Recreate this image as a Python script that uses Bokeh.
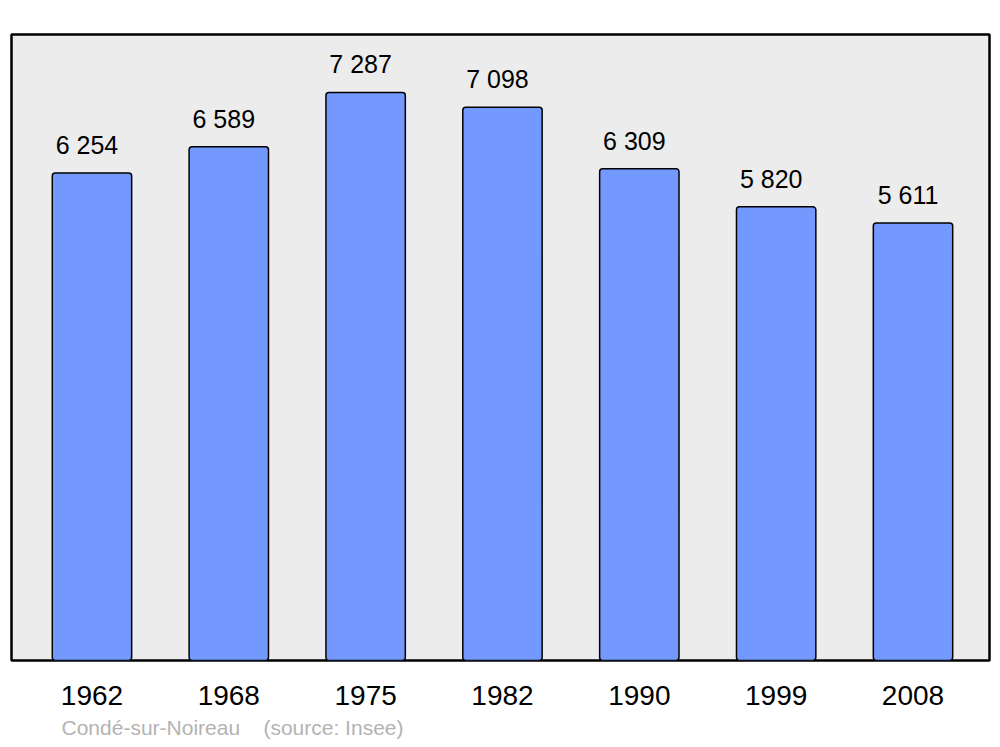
from bokeh.plotting import figure
from bokeh.models import Range1d, FixedTicker, Title, ColumnDataSource
from bokeh.core.properties import value
from bokeh.embed import file_html
from bokeh.resources import INLINE

years = ["1962", "1968", "1975", "1982", "1990", "1999", "2008"]
population = [6254, 6589, 7287, 7098, 6309, 5820, 5611]
value_labels = ["6 254", "6 589", "7 287", "7 098", "6 309", "5 820", "5 611"]
town = "Condé-sur-Noireau"
source_note = "(source: Insee)"

FONT = "Liberation Sans"
idx = list(range(len(years)))

src = ColumnDataSource(dict(x=idx, top=population, label=value_labels))

p = figure(width=992, height=747, output_backend="svg", toolbar_location=None,
           x_range=Range1d(-0.588, 6.559), y_range=Range1d(0, 8030),
           min_border_left=11, min_border_right=3, min_border_top=34, min_border_bottom=87)
p.background_fill_color = "#ececec"
p.border_fill_color = "white"
p.outline_line_color = "black"
p.outline_line_width = 2.5
p.grid.visible = False
p.yaxis.visible = False

p.vbar(x="x", top="top", bottom=0, width=0.58, source=src, fill_color="#7399ff",
       line_color="black", line_width=1.5, border_radius=3)

p.text(x="x", y="top", text="label", source=src, text_font=value(FONT), text_font_size="25px",
       text_align="center", text_baseline="alphabetic", x_offset=-5, y_offset=-28, text_color="black")

ax = p.xaxis[0]
ax.ticker = FixedTicker(ticks=idx)
ax.major_label_overrides = {i: y for i, y in zip(idx, years)}
ax.axis_line_color = None
ax.major_tick_line_color = None
ax.minor_tick_line_color = None
ax.major_tick_out = 0
ax.major_tick_in = 0
ax.major_label_standoff = 25
ax.major_label_text_font = FONT
ax.major_label_text_font_size = "28px"
ax.major_label_text_color = "black"

footer = Title(text=town + "\u00a0\u00a0\u00a0\u00a0" + source_note, align="left", offset=50,
               text_font=FONT, text_font_size="21px", text_font_style="normal",
               text_color="#b3b3b3", standoff=12)
p.add_layout(footer, "below")

open("out.html", "w").write(file_html(p, INLINE))
